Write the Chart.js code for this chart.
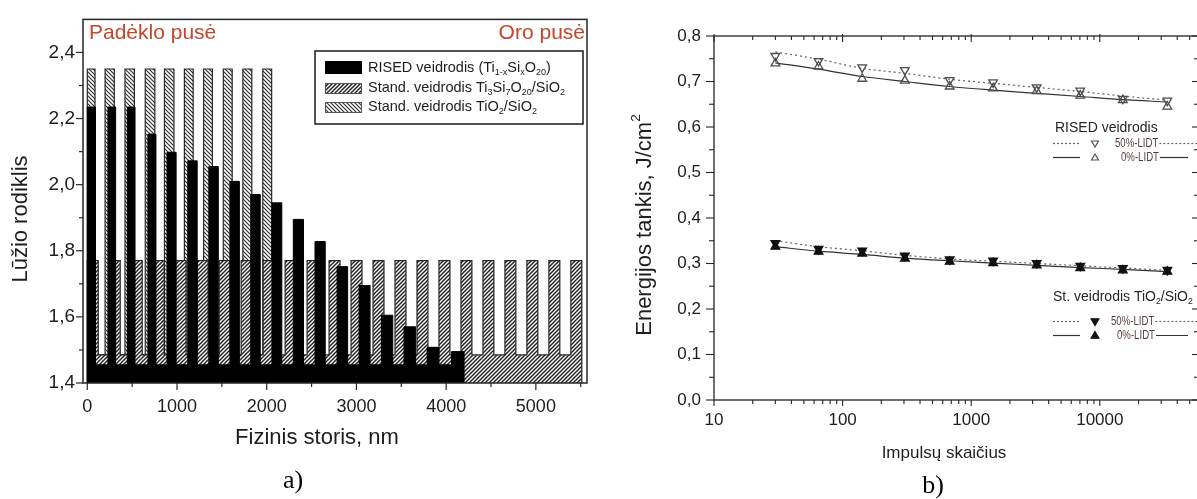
<!DOCTYPE html>
<html><head><meta charset="utf-8">
<script src="https://cdn.jsdelivr.net/npm/chart.js@4.4.1/dist/chart.umd.min.js"></script>
<style>
html,body{margin:0;padding:0;background:#fff;overflow:hidden;width:1197px;height:499px;position:relative;}
#wa{position:absolute;left:0;top:0;width:600px;height:499px;}
#wb{position:absolute;left:600px;top:0;width:610px;height:499px;}
</style></head><body>
<div id="wa"><canvas id="ca"></canvas></div>
<div id="wb"><canvas id="cb"></canvas></div>
<script>
// ---------- Panel a) : layer structures (refractive index vs physical thickness) ----------
const risedStart = [0,230,446,676,888,1120,1355,1590,1822,2058,2296,2538,2784,3030,3278,3530,3788,4060];
const risedEnd   = [91,316,532,765,990,1225,1460,1695,1928,2168,2410,2652,2902,3152,3405,3660,3920,4200];
const risedHigh  = [2.235,2.235,2.235,2.153,2.098,2.072,2.055,2.010,1.970,1.945,1.895,1.828,1.752,1.695,1.605,1.570,1.508,1.495];
const risedLow   = 1.455;

const tisiStart = [0,245,490,735,980,1225,1470,1715,1960,2205,2450,2695,2940,3185,3430,3675,3920,4165,4410,4655,4900,5145,5390];
const tisiEnd   = [122,367,612,857,1102,1347,1592,1837,2082,2327,2572,2817,3062,3307,3552,3797,4042,4287,4532,4777,5022,5267,5512];
const tisiHigh  = [1.77,1.77,1.77,1.77,1.77,1.77,1.77,1.77,1.77,1.77,1.77,1.77,1.77,1.77,1.77,1.77,1.77,1.77,1.77,1.77,1.77,1.77,1.77];
const tisiLow   = 1.485;

const tio2Start = [0,198,420,646,860,1082,1296,1516,1734,1956];
const tio2End   = [86,301,525,753,966,1180,1394,1615,1834,2055];
const tio2High  = [2.35,2.35,2.35,2.35,2.35,2.35,2.35,2.35,2.35,2.35];
const tio2Low   = 1.485;

const aYTicks = [1.4,1.6,1.8,2.0,2.2,2.4];
const aYMinor = [1.5,1.7,1.9,2.1,2.3];
const aXTicks = [0,1000,2000,3000,4000,5000];
const aXMinor = [500,1500,2500,3500,4500,5500];
const aBase = 1.4;

// ---------- Panel b) : LIDT vs number of pulses ----------
const pulses    = [30,65,142,305,680,1480,3230,7050,15100,33500];
const rised50   = [0.756,0.745,0.731,0.725,0.703,0.698,0.687,0.680,0.662,0.658];
const rised0    = [0.740,0.733,0.706,0.702,0.689,0.685,0.679,0.669,0.659,0.645];
const rised50Fit= [0.765,0.749,0.729,0.718,0.705,0.696,0.687,0.678,0.668,0.659];
const rised0Fit = [0.741,0.727,0.711,0.700,0.689,0.681,0.674,0.667,0.660,0.655];
const st50      = [0.345,0.332,0.328,0.317,0.309,0.306,0.301,0.295,0.290,0.286];
const st0       = [0.337,0.326,0.322,0.311,0.304,0.301,0.296,0.290,0.285,0.282];
const st50Fit   = [0.350,0.337,0.328,0.318,0.310,0.305,0.300,0.295,0.290,0.285];
const st0Fit    = [0.337,0.327,0.320,0.312,0.306,0.301,0.296,0.291,0.287,0.282];

const bYTicks = [0,0.1,0.2,0.3,0.4,0.5,0.6,0.7,0.8];
const bYMinor = [0.05,0.15,0.25,0.35,0.45,0.55,0.65,0.75];
const bXTicks = [10,100,1000,10000];
const bXMinor = [20,30,40,50,60,70,80,90,200,300,400,500,600,700,800,900,2000,3000,4000,5000,6000,7000,8000,9000,20000,30000,40000,50000];

// ---------- helpers ----------
const FONT = "'Liberation Sans', Arial, sans-serif";
const SERIF = "'Liberation Serif', 'Times New Roman', serif";
const fmtComma = v => Number(v).toFixed(1).replace('.', ',');

function makeHatch(dir, s, lw, col) {
  const c = document.createElement('canvas'); c.width = s; c.height = s;
  const g = c.getContext('2d');
  g.fillStyle = '#fff'; g.fillRect(0, 0, s, s);
  g.strokeStyle = col; g.lineWidth = lw;
  g.beginPath();
  if (dir === '/') {
    g.moveTo(-1, s + 1); g.lineTo(s + 1, -1);
    g.moveTo(-1, 1); g.lineTo(1, -1);
    g.moveTo(s - 1, s + 1); g.lineTo(s + 1, s - 1);
  } else {
    g.moveTo(-1, -1); g.lineTo(s + 1, s + 1);
    g.moveTo(s - 1, -1); g.lineTo(s + 1, 1);
    g.moveTo(-1, s - 1); g.lineTo(1, s + 1);
  }
  g.stroke();
  return g.createPattern(c, 'repeat');
}
const patTiSi = makeHatch('/', 4, 1.5, '#262626');
const patTiO2 = makeHatch('\\', 4, 1.2, '#333333');

function steps(starts, ends, highs, low, base) {
  const pts = [{x: starts[0], y: base}];
  for (let i = 0; i < starts.length; i++) {
    pts.push({x: starts[i], y: highs[i]});
    pts.push({x: ends[i], y: i < starts.length - 1 ? low : base});
  }
  return pts;
}
function seg(ctx, x1, y1, x2, y2) { ctx.beginPath(); ctx.moveTo(x1, y1); ctx.lineTo(x2, y2); ctx.stroke(); }
function rich(ctx, parts, x, y, size, color) {
  let cx = x;
  ctx.fillStyle = color; ctx.textBaseline = 'middle'; ctx.textAlign = 'left';
  for (const [t, k] of parts) {
    const fs = k === 'n' ? size : size * 0.62;
    ctx.font = fs + 'px ' + FONT;
    const dy = k === 's' ? size * 0.3 : (k === 'p' ? -size * 0.38 : 0);
    ctx.fillText(t, cx, y + dy);
    cx += ctx.measureText(t).width;
  }
  return cx;
}
function richWidth(ctx, parts, size) {
  let w = 0;
  for (const [t, k] of parts) { ctx.font = (k === 'n' ? size : size * 0.62) + 'px ' + FONT; w += ctx.measureText(t).width; }
  return w;
}
function tri(ctx, x, y, r, down, filled, col) {
  ctx.save(); ctx.translate(x, y); if (down) ctx.rotate(Math.PI);
  ctx.beginPath();
  for (let i = 0; i < 3; i++) { const a = i * 2 * Math.PI / 3; const px = Math.sin(a) * r, py = -Math.cos(a) * r; i ? ctx.lineTo(px, py) : ctx.moveTo(px, py); }
  ctx.closePath();
  if (filled) { ctx.fillStyle = col; ctx.fill(); }
  ctx.strokeStyle = col; ctx.lineWidth = 1.2; ctx.stroke();
  ctx.restore();
}
function narrowText(ctx, t, x, y, size, sx, color) {
  ctx.save(); ctx.translate(x, y); ctx.scale(sx, 1);
  ctx.font = size + 'px ' + FONT; ctx.fillStyle = color; ctx.textAlign = 'left'; ctx.textBaseline = 'middle';
  ctx.fillText(t, 0, 0);
  const w = ctx.measureText(t).width * sx;
  ctx.restore();
  return x + w;
}

// ---------- Chart a) ----------
const decorA = {
  id: 'decorA',
  afterDraw(chart) {
    const {ctx, chartArea: a, scales: {x, y}} = chart;
    ctx.save();
    ctx.strokeStyle = '#262626'; ctx.lineWidth = 1.5;
    ctx.strokeRect(a.left, a.top, a.right - a.left, a.bottom - a.top);
    ctx.lineWidth = 1.2;
    aYTicks.forEach(v => { const p = y.getPixelForValue(v); seg(ctx, a.left - 7, p, a.left, p); });
    aYMinor.forEach(v => { const p = y.getPixelForValue(v); seg(ctx, a.left - 4, p, a.left, p); });
    aXTicks.forEach(v => { const p = x.getPixelForValue(v); seg(ctx, p, a.bottom, p, a.bottom + 7); });
    aXMinor.forEach(v => { const p = x.getPixelForValue(v); if (p < a.right) seg(ctx, p, a.bottom, p, a.bottom + 4); });

    ctx.fillStyle = '#c4452a'; ctx.font = '21px ' + FONT; ctx.textBaseline = 'middle';
    ctx.textAlign = 'left'; ctx.fillText('Padėklo pusė', 89, 33);
    ctx.textAlign = 'right'; ctx.fillText('Oro pusė', 585, 33);

    ctx.fillStyle = '#1e1e1e'; ctx.font = '22px ' + FONT; ctx.textAlign = 'center'; ctx.textBaseline = 'middle';
    ctx.fillText('Fizinis storis, nm', 317, 438);
    ctx.save(); ctx.translate(21, 219); ctx.rotate(-Math.PI / 2); ctx.fillText('Lūžio rodiklis', 0, 0); ctx.restore();
    ctx.font = '26px ' + SERIF; ctx.fillStyle = '#000'; ctx.fillText('a)', 293, 481);

    ctx.fillStyle = '#fff'; ctx.fillRect(315, 51, 268, 73);
    ctx.strokeStyle = '#1a1a1a'; ctx.lineWidth = 1.5; ctx.strokeRect(315, 51, 268, 73);
    ctx.lineWidth = 1;
    ctx.fillStyle = '#000'; ctx.fillRect(325, 61, 37, 13);
    ctx.fillStyle = patTiSi; ctx.fillRect(325, 83, 37, 11); ctx.strokeStyle = '#555'; ctx.strokeRect(325.5, 83.5, 36, 10);
    ctx.fillStyle = patTiO2; ctx.fillRect(325, 102, 37, 11); ctx.strokeRect(325.5, 102.5, 36, 10);
    const tc = '#1e1e1e';
    rich(ctx, [['RISED veidrodis (Ti', 'n'], ['1-x', 's'], ['Si', 'n'], ['x', 's'], ['O', 'n'], ['20', 's'], [')', 'n']], 368, 68, 14.5, tc);
    rich(ctx, [['Stand. veidrodis Ti', 'n'], ['3', 's'], ['Si', 'n'], ['7', 's'], ['O', 'n'], ['20', 's'], ['/SiO', 'n'], ['2', 's']], 368, 88, 14.5, tc);
    rich(ctx, [['Stand. veidrodis TiO', 'n'], ['2', 's'], ['/SiO', 'n'], ['2', 's']], 368, 107, 14.5, tc);
    ctx.restore();
  }
};

new Chart(document.getElementById('ca'), {
  type: 'line',
  data: {
    datasets: [
      { label: 'RISED veidrodis (Ti1-xSixO20)', data: steps(risedStart, risedEnd, risedHigh, risedLow, aBase),
        stepped: 'before', borderColor: '#000', borderWidth: 1, backgroundColor: '#000', fill: 'start', pointRadius: 0 },
      { label: 'Stand. veidrodis Ti3Si7O20/SiO2', data: steps(tisiStart, tisiEnd, tisiHigh, tisiLow, aBase),
        stepped: 'before', borderColor: '#262626', borderWidth: 1.2, backgroundColor: patTiSi, fill: 'start', pointRadius: 0 },
      { label: 'Stand. veidrodis TiO2/SiO2', data: steps(tio2Start, tio2End, tio2High, tio2Low, aBase),
        stepped: 'before', borderColor: '#262626', borderWidth: 1.2, backgroundColor: patTiO2, fill: 'start', pointRadius: 0 }
    ]
  },
  options: {
    responsive: true, maintainAspectRatio: false, animation: false,
    layout: { padding: { left: 0, right: 13, top: 15, bottom: 0 } },
    plugins: { legend: { display: false }, tooltip: { enabled: false } },
    scales: {
      x: { type: 'linear', min: -48, max: 5570,
           afterBuildTicks: s => { s.ticks = aXTicks.map(v => ({ value: v })); },
           afterFit: s => { s.height = 116; },
           grid: { display: false, drawTicks: false }, border: { display: false },
           ticks: { color: '#1e1e1e', font: { family: FONT, size: 18 }, padding: 13, maxRotation: 0, autoSkip: false, callback: v => String(v) } },
      y: { type: 'linear', min: 1.4, max: 2.5,
           afterBuildTicks: s => { s.ticks = aYTicks.map(v => ({ value: v })); },
           afterFit: s => { s.width = 83; },
           grid: { display: false, drawTicks: false }, border: { display: false },
           ticks: { color: '#1e1e1e', font: { family: FONT, size: 19 }, padding: 8, autoSkip: false, callback: v => fmtComma(v) } }
    }
  },
  plugins: [decorA]
});

// ---------- Chart b) ----------
const xy = (xs, ys) => xs.map((v, i) => ({ x: v, y: ys[i] }));
const decorB = {
  id: 'decorB',
  afterDraw(chart) {
    const {ctx, chartArea: a, scales: {x, y}} = chart;
    ctx.save();
    ctx.strokeStyle = '#262626'; ctx.lineWidth = 1.3;
    ctx.strokeRect(a.left, a.top, a.right - a.left, a.bottom - a.top);
    ctx.lineWidth = 1.1;
    bYTicks.forEach(v => { const p = y.getPixelForValue(v); seg(ctx, a.left - 8, p, a.left, p); seg(ctx, a.right - 6, p, a.right, p); });
    bYMinor.forEach(v => { const p = y.getPixelForValue(v); seg(ctx, a.left - 5, p, a.left, p); seg(ctx, a.right - 4, p, a.right, p); });
    bXTicks.forEach(v => { const p = x.getPixelForValue(v); seg(ctx, p, a.bottom, p, a.bottom + 6); seg(ctx, p, a.top - 2, p, a.top + 6); });
    bXMinor.forEach(v => { const p = x.getPixelForValue(v); if (p < a.right) { seg(ctx, p, a.bottom, p, a.bottom + 4); seg(ctx, p, a.top, p, a.top + 4); } });

    ctx.fillStyle = '#1e1e1e';
    ctx.font = '17px ' + FONT; ctx.textAlign = 'center'; ctx.textBaseline = 'middle';
    ctx.fillText('Impulsų skaičius', 344, 453);
    const tparts = [['Energijos tankis, J/cm', 'n'], ['2', 'p']];
    const tw = richWidth(ctx, tparts, 22);
    ctx.save(); ctx.translate(45, 225); ctx.rotate(-Math.PI / 2); rich(ctx, tparts, -tw / 2, 0, 22, '#1e1e1e'); ctx.restore();
    ctx.font = '26px ' + SERIF; ctx.fillStyle = '#000'; ctx.textAlign = 'center'; ctx.fillText('b)', 333, 486);

    const lc = '#5a3c3c', gc = '#555';
    rich(ctx, [['RISED veidrodis', 'n']], 455, 128, 14, '#262626');
    ctx.strokeStyle = '#666'; ctx.lineWidth = 1.2; ctx.setLineDash([2, 2]); seg(ctx, 453, 143.5, 480, 143.5);
    ctx.setLineDash([]); tri(ctx, 495, 143, 4, true, false, gc);
    let e = narrowText(ctx, '50%-LIDT', 515, 143.5, 13, 0.74, lc);
    ctx.strokeStyle = '#666'; ctx.setLineDash([2, 2]); seg(ctx, e + 1, 143.5, 600, 143.5); ctx.setLineDash([]);
    ctx.strokeStyle = '#333'; seg(ctx, 453, 157.5, 480, 157.5);
    tri(ctx, 495, 158, 4, false, false, gc);
    e = narrowText(ctx, '0%-LIDT', 521, 157.5, 13, 0.74, lc);
    ctx.strokeStyle = '#333'; seg(ctx, e + 1, 157.5, 588, 157.5);

    rich(ctx, [['St. veidrodis TiO', 'n'], ['2', 's'], ['/SiO', 'n'], ['2', 's']], 453, 297, 14, '#262626');
    ctx.strokeStyle = '#666'; ctx.setLineDash([2, 2]); seg(ctx, 453, 321.5, 480, 321.5); ctx.setLineDash([]);
    tri(ctx, 495, 321, 4.5, true, true, '#111');
    e = narrowText(ctx, '50%-LIDT', 511, 321.5, 13, 0.74, lc);
    ctx.strokeStyle = '#666'; ctx.setLineDash([2, 2]); seg(ctx, e + 1, 321.5, 600, 321.5); ctx.setLineDash([]);
    ctx.strokeStyle = '#333'; seg(ctx, 453, 335.5, 480, 335.5);
    tri(ctx, 495, 336, 4.5, false, true, '#111');
    e = narrowText(ctx, '0%-LIDT', 517, 335.5, 13, 0.74, lc);
    ctx.strokeStyle = '#333'; seg(ctx, e + 1, 335.5, 588, 335.5);
    ctx.restore();
  }
};

const mk = (label, ys, down, filled) => ({
  label, data: xy(pulses, ys), showLine: false, pointStyle: 'triangle', pointRotation: down ? 180 : 0,
  pointRadius: 5, pointBorderWidth: 1.3,
  pointBackgroundColor: filled ? '#111' : 'rgba(255,255,255,0)', pointBorderColor: filled ? '#111' : '#4d4d4d',
  borderColor: filled ? '#111' : '#4d4d4d'
});
const fit = (label, ys, dotted) => ({
  label, data: xy(pulses, ys), pointRadius: 0, borderWidth: dotted ? 1.3 : 1.2,
  borderColor: dotted ? '#6a6a6a' : '#333', borderDash: dotted ? [2, 3] : [], tension: 0.4,
  cubicInterpolationMode: 'monotone', fill: false
});

new Chart(document.getElementById('cb'), {
  type: 'line',
  data: {
    datasets: [
      mk('RISED 50%-LIDT', rised50, true, false),
      mk('RISED 0%-LIDT', rised0, false, false),
      fit('RISED 50%-LIDT fit', rised50Fit, true),
      fit('RISED 0%-LIDT fit', rised0Fit, false),
      mk('St. 50%-LIDT', st50, true, true),
      mk('St. 0%-LIDT', st0, false, true),
      fit('St. 50%-LIDT fit', st50Fit, true),
      fit('St. 0%-LIDT fit', st0Fit, false)
    ]
  },
  options: {
    responsive: true, maintainAspectRatio: false, animation: false,
    layout: { padding: { left: 0, right: 12, top: 36, bottom: 0 } },
    plugins: { legend: { display: false }, tooltip: { enabled: false } },
    scales: {
      x: { type: 'logarithmic', min: 10, max: 58000,
           afterBuildTicks: s => { s.ticks = bXTicks.map(v => ({ value: v })); },
           afterFit: s => { s.height = 99; },
           grid: { display: false, drawTicks: false }, border: { display: false },
           ticks: { color: '#1e1e1e', font: { family: FONT, size: 17 }, padding: 10, maxRotation: 0, autoSkip: false, callback: v => String(v) } },
      y: { type: 'linear', min: 0, max: 0.8,
           afterBuildTicks: s => { s.ticks = bYTicks.map(v => ({ value: v })); },
           afterFit: s => { s.width = 114; },
           grid: { display: false, drawTicks: false }, border: { display: false },
           ticks: { color: '#1e1e1e', font: { family: FONT, size: 17 }, padding: 13, autoSkip: false, callback: v => fmtComma(v) } }
    }
  },
  plugins: [decorB]
});
</script>
</body></html>
